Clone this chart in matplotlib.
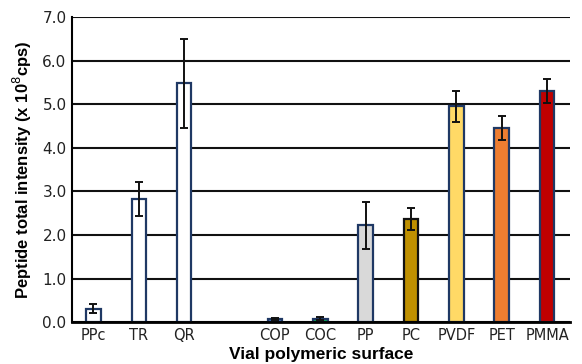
import numpy as np
import matplotlib.pyplot as plt

# values (x 10^8 cps)
labels = ['PPc', 'TR', 'QR', '', 'COP', 'COC', 'PP', 'PC', 'PVDF', 'PET', 'PMMA']
means = [0.31, 2.82, 5.48, np.nan, 0.07, 0.08, 2.22, 2.36, 4.95, 4.45, 5.30]
errs = [0.11, 0.39, 1.02, np.nan, 0.03, 0.04, 0.54, 0.25, 0.36, 0.28, 0.27]
fills = ['white', 'white', 'white', 'none', '#4472c4', '#00b050', '#d9d9d9',
         '#bf9000', '#ffd966', '#ed7d31', '#c00000']
edges = ['#1f3864'] * 7 + ['#111111', '#1f3864', '#1f3864', '#1f3864']

fig = plt.figure(figsize=(5.82, 3.64), dpi=100)
ax = fig.add_axes([0.124, 0.115, 0.855, 0.838])

x = np.arange(len(labels))
for i in x:
    if np.isnan(means[i]):
        continue
    ax.bar(i, means[i], width=0.32, color=fills[i], edgecolor=edges[i],
           linewidth=1.6, zorder=3)
    ax.errorbar(i, means[i], yerr=errs[i], fmt='none', ecolor='#111111',
                elinewidth=1.4, capsize=3, capthick=1.4, zorder=4)

ax.set_ylim(0, 7.0)
ax.set_xlim(-0.47, 10.5)
ax.set_yticks(np.arange(0, 7.5, 1.0))
ax.set_yticklabels(['%.1f' % v for v in np.arange(0, 7.5, 1.0)], fontsize=11,
                   color='#222222')
ax.set_xticks(x)
ax.set_xticklabels(labels, fontsize=10.5, color='#222222')
ax.tick_params(length=0, pad=4)
ax.yaxis.grid(True, color='#111111', linewidth=1.5, zorder=0)
ax.set_axisbelow(True)

for s in ['top', 'right']:
    ax.spines[s].set_visible(False)
ax.spines['left'].set_linewidth(1.5)
ax.spines['bottom'].set_linewidth(2)
ax.spines['bottom'].set_zorder(5)

ax.set_ylabel('Peptide total intensity (x 10$^8$cps)', fontsize=12,
              fontweight='bold', family='Liberation Sans', labelpad=6)
ax.set_xlabel('Vial polymeric surface', fontsize=12.5, fontweight='bold',
              family='Liberation Sans', labelpad=3)

fig.savefig('out.png', dpi=100)
